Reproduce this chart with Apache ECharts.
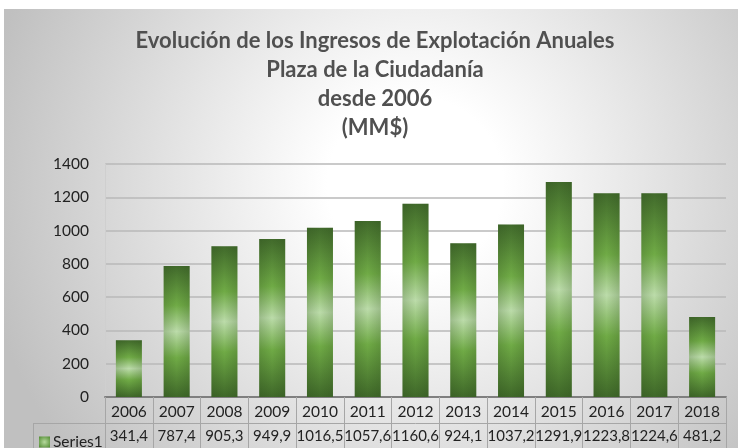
<!DOCTYPE html>
<html>
<head>
<meta charset="utf-8">
<script src="https://cdn.jsdelivr.net/npm/echarts@6/dist/echarts.min.js"></script>
<style>
  html, body { margin: 0; padding: 0; background: #fff; }
  #main { width: 738px; height: 448px; }
</style>
</head>
<body>
<div id="main"></div>
<script>
// datos del grafico
var years = ['2006', '2007', '2008', '2009', '2010', '2011', '2012', '2013', '2014', '2015', '2016', '2017', '2018'];
var ingresos = [341.4, 787.4, 905.3, 949.9, 1016.5, 1057.6, 1160.6, 924.1, 1037.2, 1291.9, 1223.8, 1224.6, 481.2];
var yTicks = [0, 200, 400, 600, 800, 1000, 1200, 1400];
var titleLines = ['Evolución de los Ingresos de Explotación Anuales', 'Plaza de la Ciudadanía', 'desde 2006', '(MM$)'];

var FONT = 'Lato, "Open Sans", sans-serif';

// etiquetas de la tabla (coma decimal)
var valueLabels = ingresos.map(function (v) { return v.toFixed(1).replace('.', ','); });

var myChart = echarts.init(document.getElementById('main'));

var barColor = {
    type: 'linear', x: 0, y: 0, x2: 0, y2: 1,
    colorStops: [
        { offset: 0, color: '#416a2b' },
        { offset: 0.3, color: '#70ab46' },
        { offset: 0.5, color: '#bcdcaa' },
        { offset: 0.7, color: '#70ab46' },
        { offset: 1, color: '#3f6829' }
    ]
};
var sideShade = {
    type: 'linear', x: 0, y: 0, x2: 1, y2: 0,
    colorStops: [
        { offset: 0, color: 'rgba(40,70,25,0.22)' },
        { offset: 0.5, color: 'rgba(40,70,25,0)' },
        { offset: 1, color: 'rgba(40,70,25,0.22)' }
    ]
};
// icono de la leyenda
var legendColor = {
    type: 'radial', x: 0.5, y: 0.5, r: 0.7,
    colorStops: [
        { offset: 0, color: '#b5d99c' },
        { offset: 1, color: '#4f8a30' }
    ]
};

var option = {
    animation: false,
    backgroundColor: '#ffffff',
    graphic: [
        {
            type: 'rect', z: -10, silent: true,
            shape: { x: 4, y: 9, width: 734, height: 439 },
            style: {
                fill: {
                    type: 'radial', x: 0.56, y: 0.4, r: 1.0,
                    colorStops: [
                        { offset: 0, color: '#ffffff' },
                        { offset: 0.2, color: '#ffffff' },
                        { offset: 1, color: '#c0c0c0' }
                    ]
                }
            }
        },
        {
            type: 'line', z: 10, silent: true,
            shape: { x1: 33, y1: 423.5, x2: 105, y2: 423.5 },
            style: { stroke: '#a6a6a6', lineWidth: 1 }
        },
        {
            type: 'line', z: 10, silent: true,
            shape: { x1: 33.5, y1: 423, x2: 33.5, y2: 448 },
            style: { stroke: '#a6a6a6', lineWidth: 1 }
        }
    ],
    title: {
        text: titleLines.join('\n'),
        left: 370,
        textAlign: 'center',
        top: 21,
        textStyle: {
            fontFamily: FONT,
            fontSize: 22,
            fontWeight: 'bold',
            color: '#505050',
            lineHeight: 29
        }
    },
    legend: {
        data: [{ name: 'Series1', itemStyle: { color: legendColor } }],
        left: 34,
        top: 429,
        icon: 'rect',
        itemWidth: 11,
        itemHeight: 11,
        itemGap: 4,
        textStyle: { fontFamily: FONT, fontSize: 15.5, color: '#222', padding: [0, 0, 0, -2] }
    },
    grid: { left: 105, right: 12, top: 164, bottom: 51 },
    xAxis: [
        {
            type: 'category',
            data: years,
            position: 'bottom',
            axisLine: { lineStyle: { color: '#7f7f7f', width: 2 } },
            axisTick: { show: true, length: 26, lineStyle: { color: '#a6a6a6' } },
            axisLabel: { fontFamily: FONT, fontSize: 15.5, color: '#222', margin: 7 }
        },
        {
            type: 'category',
            data: valueLabels,
            position: 'bottom',
            offset: 26,
            axisLine: { show: true, lineStyle: { color: '#a6a6a6', width: 1 } },
            axisTick: { show: true, length: 26, lineStyle: { color: '#a6a6a6' } },
            axisLabel: { fontFamily: FONT, fontSize: 15, color: '#222', margin: 6, interval: 0 }
        }
    ],
    yAxis: {
        type: 'value',
        min: yTicks[0],
        max: yTicks[yTicks.length - 1],
        interval: 200,
        axisLine: { show: true, lineStyle: { color: '#cfcfcf' } },
        axisTick: { show: false },
        axisLabel: {
            fontFamily: FONT, fontSize: 15.5, color: '#222', margin: 16,
            formatter: function (v) { return String(v); }
        },
        splitLine: { lineStyle: { color: '#b8b8b8', width: 1.5 } }
    },
    series: [
        {
            name: 'Series1',
            type: 'bar',
            data: ingresos,
            barWidth: 26,
            itemStyle: { color: barColor }
        },
        {
            name: 'shade',
            type: 'bar',
            data: ingresos,
            barWidth: 26,
            barGap: '-100%',
            silent: true,
            itemStyle: { color: sideShade }
        }
    ]
};

myChart.setOption(option);
</script>
</body>
</html>
